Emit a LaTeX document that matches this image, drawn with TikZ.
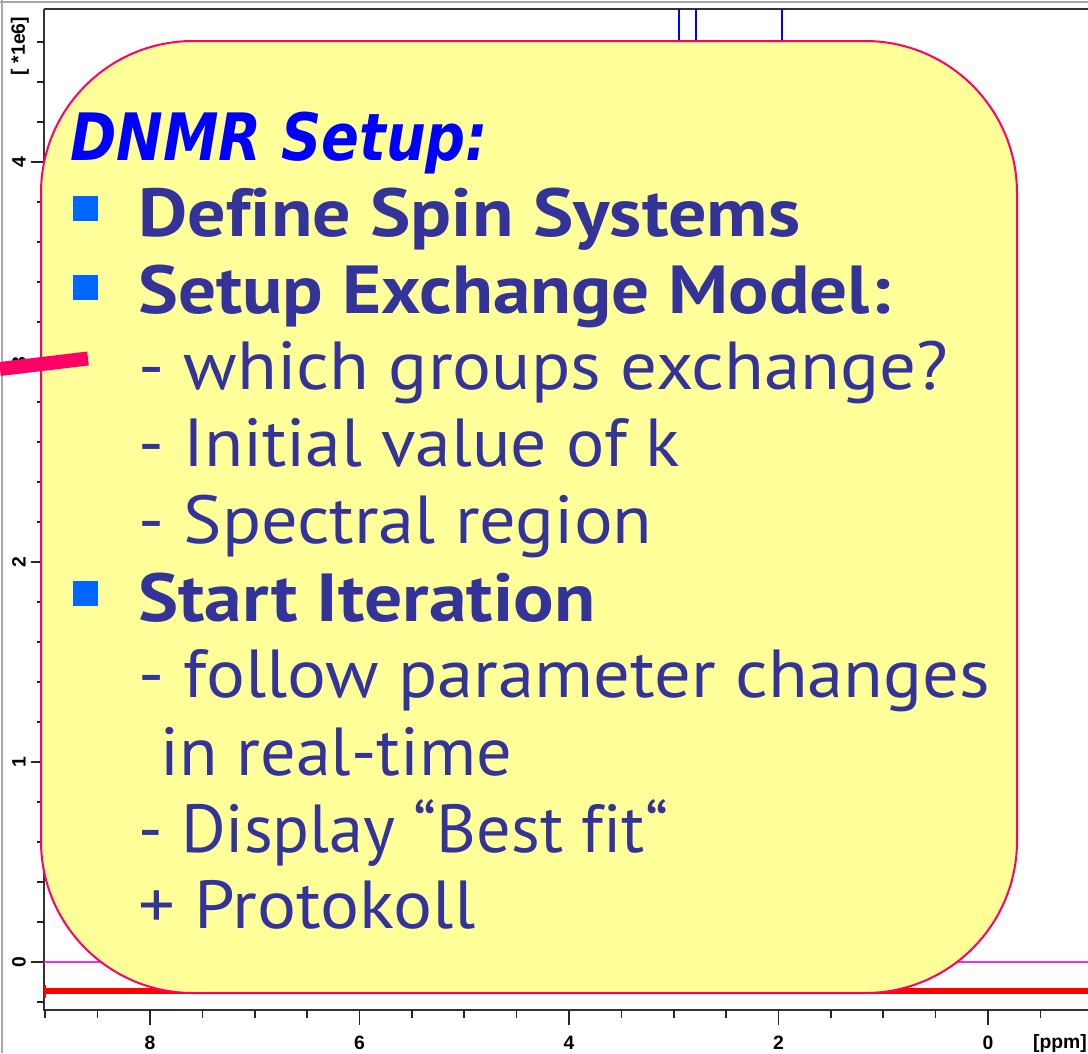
\documentclass[tikz,border=0pt]{standalone}
\usepackage{fontspec}
\usepackage{graphicx}
\newfontfamily\bodyfont[Ligatures=NoCommon]{PT Sans}
\newfontfamily\titlefont{DejaVu Sans}
\newfontfamily\axisfont{Liberation Sans}
\newlength\fitlen
\newcommand\fitw[2]{\settowidth\fitlen{#2}\pgfmathsetmacro\fitratio{#1*0.75/\fitlen}\scalebox{\fitratio}[1]{#2}}
\definecolor{boxfill}{HTML}{FFFF99}
\definecolor{boxline}{HTML}{FF0066}
\definecolor{txtcol}{HTML}{333399}
\definecolor{bulcol}{HTML}{0066FF}
\definecolor{ttlcol}{HTML}{0000FF}
\definecolor{magline}{HTML}{E633E6}
\definecolor{framegray}{HTML}{A8A8A8}
\begin{document}
\begin{tikzpicture}[x=0.75pt,y=-0.75pt,
  body/.style={font=\bodyfont\fontsize{51}{51}\selectfont, text=txtcol, anchor=base west, inner sep=0pt},
  bodyb/.style={body, font=\bodyfont\bfseries\fontsize{51}{51}\selectfont},
  ttl/.style={font=\titlefont\bfseries\itshape\fontsize{49}{49}\selectfont, text=ttlcol, anchor=base west, inner sep=0pt},
  bulletsq/.style={fill=bulcol, minimum size=18.75pt, inner sep=0pt, draw=none},
  axlab/.style={font=\axisfont\bfseries\fontsize{14.5}{14.5}\selectfont, inner sep=0pt},
  axline/.style={draw=black!80, line width=1.5pt},
  tick/.style={draw=black!85, line width=1.2pt}
]
\useasboundingbox (0,0) rectangle (1088,1053);
\fill[white] (0,0) rectangle (1088,1053);
% outer window frame
\draw[framegray, line width=2pt] (2,0) -- (2,1053);
\draw[framegray, line width=2pt] (0,2) -- (1088,2);
% plot frame
\draw[axline] (44,9) -- (1088,9);
\draw[axline] (44,9) -- (44,1010) -- (1088,1010);
% y ticks
\foreach \k in {-1,...,23}{
  \pgfmathsetmacro\yy{962-40*\k}
  \draw[tick] (37,\yy) -- (44,\yy);
}
\foreach \k in {0,...,4}{
  \pgfmathsetmacro\yy{962-200*\k}
  \draw[tick] (31,\yy) -- (44,\yy);
}
% y labels
\node[axlab, rotate=90] (y0) at (19,962) {0};
\node[axlab, rotate=90] (y1) at (19,762) {1};
\node[axlab, rotate=90] (y2) at (19,562) {2};
\node[axlab, rotate=90] (y3) at (19,362) {3};
\node[axlab, rotate=90] (y4) at (19,162) {4};
\node[axlab, rotate=90] (yu) at (20,46) {[ *1e6]};
% x ticks
\foreach \k in {0,...,19}{
  \pgfmathsetmacro\xx{45.25+52.375*\k}
  \draw[tick] (\xx,1010) -- (\xx,1018);
}
\foreach \p in {8,6,4,2,0}{
  \pgfmathsetmacro\xx{988-104.75*\p}
  \draw[tick] (\xx,1010) -- (\xx,1025);
  \node[axlab] (x\p) at (\xx,1043) {\p};
}
\node[axlab] (xu) at (1060,1043) {[ppm]};
% spectrum peaks
\draw[ttlcol, line width=2.2pt] (679,9) -- (679,60);
\draw[ttlcol, line width=2.2pt] (696,9) -- (696,60);
\draw[ttlcol, line width=2.2pt] (782,9) -- (782,60);
% baseline and fit line
\draw[magline, line width=1.2pt] (44,962) -- (1088,962);
\draw[red, line width=4.5pt] (44,991) -- (1088,991);
\draw[red, line width=1.5pt] (45,985) -- (45,998);
% yellow box
\draw[boxline, fill=boxfill, line width=1.5pt, rounded corners=114pt] (41,41) rectangle (1017,993);
% title
\node[ttl] (title) at (70,160) {\fitw{418}{DNMR Setup:}};
% bullets
\node[bulletsq] (b1) at (85.5,208.5) {};
\node[bulletsq] (b2) at (85.5,287) {};
\node[bulletsq] (b3) at (85.5,593) {};
% lines
\node[bodyb] (l1) at (138,236) {\fitw{662}{Define Spin Systems}};
\node[bodyb] (l2) at (138,313) {\fitw{752}{Setup Exchange Model:}};
\node[body] (l3) at (138,389) {\fitw{810}{- which groups exchange?}};
\node[body] (l4) at (138,466) {\fitw{542}{- Initial value of k}};
\node[body] (l5) at (138,543) {\fitw{514}{- Spectral region}};
\node[bodyb] (l6) at (138,621) {\fitw{457}{Start Iteration}};
\node[body] (l7) at (138,697) {\fitw{852}{- follow parameter changes}};
\node[body] (l8) at (160,775) {\fitw{352}{in real-time}};
\node[body] (l9) at (138,852) {\fitw{530}{- Display “Best fit“}};
\node[body] (l10) at (138,928) {\fitw{337}{+ Protokoll}};
% pink pointer stroke
\coordinate (p1) at (0,369);
\coordinate (p2) at (88,358.5);
\draw[boxline, line width=10.5pt] (p1) -- (p2);
\end{tikzpicture}
\end{document}
